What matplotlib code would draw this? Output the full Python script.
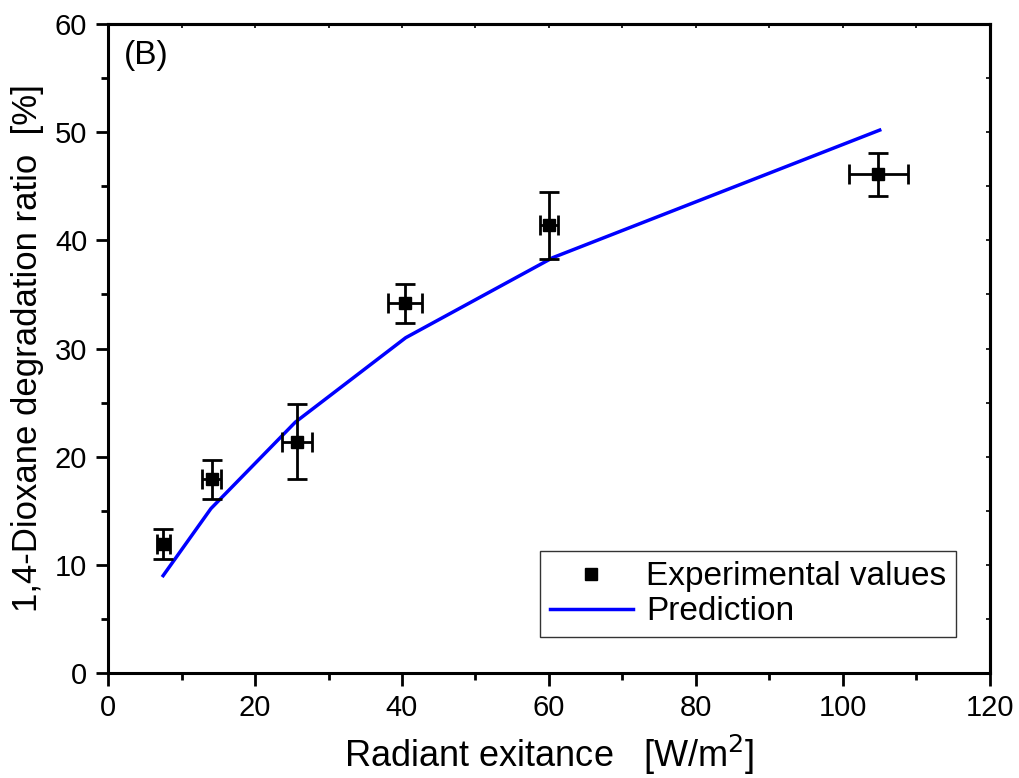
#bibliotecas
import numpy as np
import matplotlib.pyplot as plt
from matplotlib.ticker import MultipleLocator

plt.rcParams['font.family'] = ['Liberation Sans', 'DejaVu Sans']

# dados experimentais
x_exp = [7.5, 14.1, 25.7, 40.4, 60.0, 104.8]
y_exp = [11.9, 17.9, 21.4, 34.2, 41.4, 46.1]
xerr_exp = [0.9, 1.3, 2.0, 2.3, 1.2, 4.0]
yerr_low = [1.4, 1.8, 3.5, 1.8, 3.1, 2.0]
yerr_high = [1.4, 1.8, 3.5, 1.8, 3.1, 2.0]

# previsao do modelo
x_pred = [7.5, 14.0, 25.5, 40.5, 60.5, 105.0]
y_pred = [9.0, 15.2, 23.2, 31.0, 38.4, 50.2]

fig = plt.figure(figsize=(10.19, 7.78), dpi=100)
ax = fig.add_axes([0.106, 0.135, 0.8655, 0.834])

eb = ax.errorbar(x_exp, y_exp, xerr=xerr_exp, yerr=[yerr_low, yerr_high],
                 fmt='s', color='black', ms=9, elinewidth=2, capsize=7,
                 capthick=2, zorder=3)
ln, = ax.plot(x_pred, y_pred, color='#0000ff', lw=2.5, zorder=2)

ax.set_xlim(0, 120)
ax.set_ylim(0, 60)
ax.xaxis.set_major_locator(MultipleLocator(20))
ax.xaxis.set_minor_locator(MultipleLocator(10))
ax.yaxis.set_major_locator(MultipleLocator(10))
ax.yaxis.set_minor_locator(MultipleLocator(5))

for s in ax.spines.values():
    s.set_linewidth(2.2)
ax.tick_params(which='both', direction='out', width=2, labelsize=21,
               top=False, right=False)
ax.tick_params(which='major', length=9, pad=6)
ax.tick_params(which='minor', length=5)

# ticks internos no topo e direita
ax2 = ax.secondary_xaxis('top')
ax2.xaxis.set_major_locator(MultipleLocator(20))
ax2.xaxis.set_minor_locator(MultipleLocator(10))
ax2.tick_params(which='both', direction='in', width=1.2, length=3,
                labeltop=False)
ax3 = ax.secondary_yaxis('right')
ax3.yaxis.set_major_locator(MultipleLocator(10))
ax3.yaxis.set_minor_locator(MultipleLocator(5))
ax3.tick_params(which='both', direction='in', width=1.2, length=3,
                labelright=False)
for a in (ax2, ax3):
    for s in a.spines.values():
        s.set_linewidth(2.2)

ax.set_xlabel(r'Radiant exitance   [W/m$^2$]', fontsize=26, labelpad=8)
ax.set_ylabel('1,4-Dioxane degradation ratio  [%]', fontsize=25, labelpad=8)
ax.text(0.018, 0.975, '(B)', transform=ax.transAxes, fontsize=24,
        va='top', ha='left')

# legenda sem barras de erro no simbolo
leg = ax.legend([eb[0], ln], ['Experimental values', 'Prediction'],
                loc='lower right', bbox_to_anchor=(0.962, 0.055), fontsize=24,
                frameon=True, fancybox=False, edgecolor='black',
                borderpad=0.3, handlelength=2.5, labelspacing=0.12,
                handletextpad=0.4, borderaxespad=0)
leg.get_frame().set_linewidth(1.0)

plt.savefig('out.png', dpi=100)
